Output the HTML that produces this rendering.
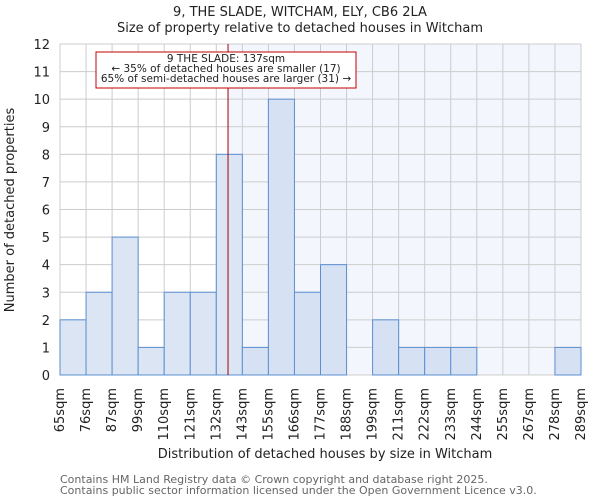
<!DOCTYPE html>
<html><head><meta charset="utf-8"><style>
body{margin:0;background:#fff;font-family:"DejaVu Sans","Liberation Sans",sans-serif}
svg text{font-family:"DejaVu Sans","Liberation Sans",sans-serif}
</style></head><body>
<svg id="chart" width="600" height="500" xmlns="http://www.w3.org/2000/svg">
<text x="300" y="16" font-size="13" text-anchor="middle" fill="#222">9, THE SLADE, WITCHAM, ELY, CB6 2LA</text>
<text x="300" y="32" font-size="13" text-anchor="middle" fill="#222">Size of property relative to detached houses in Witcham</text>
<g id="plot"></g>
<text x="325" y="458" font-size="13" text-anchor="middle" fill="#222">Distribution of detached houses by size in Witcham</text>
<text transform="translate(14,210) rotate(-90)" font-size="13" text-anchor="middle" fill="#222">Number of detached properties</text>
<text x="60" y="483" font-size="11" fill="#666">Contains HM Land Registry data © Crown copyright and database right 2025.</text>
<text x="60" y="494" font-size="11" fill="#666">Contains public sector information licensed under the Open Government Licence v3.0.</text>
</svg>
<script>
const categories=["65sqm","76sqm","87sqm","99sqm","110sqm","121sqm","132sqm","143sqm","155sqm","166sqm","177sqm","188sqm","199sqm","211sqm","222sqm","233sqm","244sqm","255sqm","267sqm","278sqm","289sqm"];
const counts=[2,3,5,1,3,3,8,1,10,3,4,0,2,1,1,1,0,0,0,1];
const yTicks=[0,1,2,3,4,5,6,7,8,9,10,11,12];
const markerIndex=6.45;
const NS="http://www.w3.org/2000/svg";
const g=document.getElementById('plot');
const L=60,R=581,T=44,B=375,yMax=12;
const bw=(R-L)/counts.length;
const xs=i=>L+i*bw;
const ys=v=>B-(v/yMax)*(B-T);
function mk(t,a){const e=document.createElementNS(NS,t);for(const k in a)e.setAttribute(k,a[k]);g.appendChild(e);return e;}
const mx=xs(markerIndex);
let e=mk('rect',{x:mx,y:T,width:R-mx,height:B-T,fill:'#f3f6fd'});


for(let i=0;i<=counts.length;i++){e=mk('line',{x1:xs(i),x2:xs(i),y1:T,y2:B,stroke:'#cccccc','stroke-width':1});

}
yTicks.forEach(v=>{e=mk('line',{x1:L,x2:R,y1:ys(v),y2:ys(v),stroke:'#cccccc','stroke-width':1});


const t=mk('text',{x:L-10,y:ys(v)+5,'font-size':13,'text-anchor':'end',fill:'#222'});t.textContent=v;

});
counts.forEach((c,i)=>{if(c<=0)return;const left=i<markerIndex;
e=mk('rect',{x:xs(i),y:ys(c),width:bw,height:ys(0)-ys(c),fill:left?'#dbe5f3':'#d6e2f4',stroke:'#5b8fd1','stroke-width':1});

});
categories.forEach((c,i)=>{const x=xs(i)+4;const t=mk('text',{transform:`translate(${x},388) rotate(-90)`,'font-size':13,'text-anchor':'end',fill:'#222'});t.textContent=c;

});
e=mk('line',{x1:mx,x2:mx,y1:T,y2:B,stroke:'#a00000','stroke-width':1});


e=mk('rect',{x:96,y:52,width:260,height:36,fill:'#fff',stroke:'#c00000','stroke-width':1});


["9 THE SLADE: 137sqm","← 35% of detached houses are smaller (17)","65% of semi-detached houses are larger (31) →"].forEach((s,k)=>{const t=mk('text',{x:226,y:62+k*10,'font-size':10.5,'text-anchor':'middle',fill:'#222'});t.textContent=s;

});
</script>
</body></html>
